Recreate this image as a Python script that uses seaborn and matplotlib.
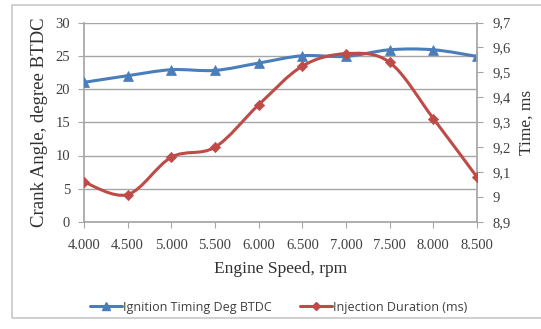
import numpy as np
import pandas as pd
import matplotlib
matplotlib.use("Agg")
import matplotlib.pyplot as plt
import seaborn as sns
from matplotlib.path import Path
from matplotlib.patches import PathPatch, Rectangle
from matplotlib.lines import Line2D
from matplotlib.ticker import FuncFormatter

speed = [4000, 4500, 5000, 5500, 6000, 6500, 7000, 7500, 8000, 8500]
ignition = [21.0, 22.0, 22.9, 22.8, 23.9, 25.0, 24.9, 25.9, 25.9, 24.9]
injection = [9.06, 9.01, 9.16, 9.20, 9.37, 9.525, 9.575, 9.54, 9.315, 9.08]

ign_label = "Ignition Timing Deg BTDC"
inj_label = "Injection Duration (ms)"
xlabel = "Engine Speed, rpm"
ylabel_left = "Crank Angle, degree BTDC"
ylabel_right = "Time, ms"

BLUE = "#4A7EBB"
RED = "#BE4B48"
GRID = "#a6a6a6"

df = pd.DataFrame({"speed": speed, "ignition": ignition, "injection": injection})

sns.set_theme(style="white")
plt.rcParams["font.family"] = ["Liberation Serif", "DejaVu Serif"]

fig = plt.figure(figsize=(5.41, 3.29), dpi=100)
ax = fig.add_axes([84 / 541, 1 - 222 / 329, (477 - 84) / 541, (222 - 22.5) / 329])
ax2 = ax.twinx()


def smooth_path(ax_, xs, ys, color):
    xs = np.asarray(xs, float)
    ys = np.asarray(ys, float)
    verts = [(xs[0], ys[0])]
    codes = [Path.MOVETO]
    n = len(xs)
    for i in range(n - 1):
        x0, y0 = (xs[i - 1], ys[i - 1]) if i > 0 else (xs[i], ys[i])
        x3, y3 = (xs[i + 2], ys[i + 2]) if i + 2 < n else (xs[i + 1], ys[i + 1])
        c1 = (xs[i] + (xs[i + 1] - x0) / 6, ys[i] + (ys[i + 1] - y0) / 6)
        c2 = (xs[i + 1] - (x3 - xs[i]) / 6, ys[i + 1] - (y3 - ys[i]) / 6)
        verts += [c1, c2, (xs[i + 1], ys[i + 1])]
        codes += [Path.CURVE4] * 3
    ax_.add_patch(PathPatch(Path(verts, codes), facecolor="none", edgecolor=color,
                            lw=2.2, zorder=3, capstyle="round", joinstyle="round"))


smooth_path(ax, df["speed"], df["ignition"], BLUE)
sns.scatterplot(data=df, x="speed", y="ignition", ax=ax, marker="^", s=50,
                color=BLUE, edgecolor=BLUE, zorder=4, legend=False)
smooth_path(ax2, df["speed"], df["injection"], RED)
sns.scatterplot(data=df, x="speed", y="injection", ax=ax2, marker="D", s=28,
                color=RED, edgecolor=RED, zorder=4, legend=False)

ax.set_xlim(4000, 8500)
ax.set_ylim(0, 30)
ax2.set_ylim(8.9, 9.7)
ax.set_xticks(speed)
ax.set_yticks(range(0, 31, 5))
ax2.set_yticks(np.round(np.arange(8.9, 9.71, 0.1), 1))

ax.xaxis.set_major_formatter(FuncFormatter(lambda v, p: f"{v/1000:.3f}"))
ax2.yaxis.set_major_formatter(FuncFormatter(
    lambda v, p: (f"{v:.1f}".rstrip("0").rstrip(".")).replace(".", ",")))

for a in (ax, ax2):
    for s in a.spines.values():
        s.set_visible(False)
ax.spines["left"].set_visible(True)
ax.spines["left"].set_color(GRID)
ax.spines["bottom"].set_visible(True)
ax.spines["bottom"].set_color(GRID)
ax2.spines["right"].set_visible(True)
ax2.spines["right"].set_color(GRID)

ax.yaxis.grid(True, color=GRID, lw=1.0)
ax.xaxis.grid(False)
ax2.grid(False)
ax.set_axisbelow(True)

ax.tick_params(axis="both", which="major", direction="out", length=4, width=0.8,
               color=GRID, labelsize=10.5, labelcolor="#404040")
ax.tick_params(axis="y", pad=6)
ax.tick_params(axis="x", pad=8)
ax2.tick_params(axis="y", direction="out", length=4, width=0.8, color=GRID,
                labelsize=10.5, labelcolor="#404040", pad=7)
ax.tick_params(left=True, bottom=True)
ax2.tick_params(right=True)

ax.set_xlabel(xlabel, fontsize=12.5, color="#303030", labelpad=7)
ax.set_ylabel(ylabel_left, fontsize=13.5, color="#303030", labelpad=5)
ax2.set_ylabel(ylabel_right, fontsize=12.5, color="#303030", labelpad=6)

handles = [
    Line2D([], [], color=BLUE, lw=2.2, marker="^", markersize=6),
    Line2D([], [], color=RED, lw=2.2, marker="D", markersize=4.5),
]
fig.legend(handles, [ign_label, inj_label], loc="center", bbox_to_anchor=(0.515, 1 - 307 / 329),
           ncol=2, frameon=False, handlelength=2.6, handletextpad=0.1, columnspacing=2.2,
           prop={"family": ["Open Sans", "DejaVu Sans"], "size": 9},
           labelcolor="#404040")

fig.patches.append(Rectangle((12 / 541, 1 - 318 / 329), 1.0, (318 - 5) / 329,
                             transform=fig.transFigure, fill=False,
                             edgecolor="#c8c8c8", lw=1.2, zorder=0))

fig.savefig("out.png", dpi=100, facecolor="white")
